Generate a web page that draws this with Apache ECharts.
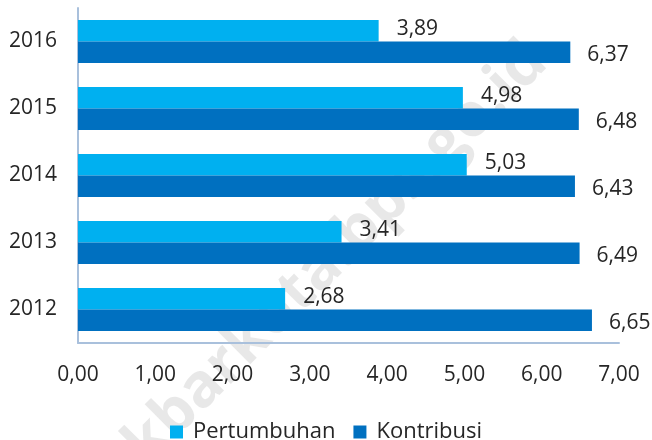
<!DOCTYPE html>
<html>
<head>
<meta charset="utf-8">
<script src="https://cdn.jsdelivr.net/npm/echarts@6/dist/echarts.min.js"></script>
<style>
html,body{margin:0;padding:0;background:#fff;}
#chart{width:652px;height:440px;}
</style>
</head>
<body>
<div id="chart"></div>
<script>
var years = ['2012', '2013', '2014', '2015', '2016'];
var pertumbuhan = [2.68, 3.41, 5.03, 4.98, 3.89];
var kontribusi = [6.65, 6.49, 6.43, 6.48, 6.37];
var xTickLabels = ['0,00', '1,00', '2,00', '3,00', '4,00', '5,00', '6,00', '7,00'];
var seriesNames = ['Pertumbuhan', 'Kontribusi'];
var watermarkText = 'kbarkota.bps.go.id';

var FONT = '"Open Sans", sans-serif';
var TEXT = '#262626';
var fmt = function (v) { return v.toFixed(2).replace('.', ','); };

var chart = echarts.init(document.getElementById('chart'));
chart.setOption({
  animation: false,
  backgroundColor: '#ffffff',
  textStyle: { fontFamily: FONT },
  graphic: [{
    type: 'text',
    z: -10,
    rotation: Math.PI * 45 / 180,
    originX: 0, originY: 0,
    x: 135, y: 455,
    style: {
      text: watermarkText,
      fontSize: 61,
      fontWeight: 'bold',
      fontFamily: FONT,
      verticalAlign: 'middle',
      fill: 'rgba(0,0,0,0.09)'
    }
  }],
  grid: { left: 78, right: 33, top: 8, bottom: 97, containLabel: false },
  legend: {
    data: seriesNames,
    left: 'center',
    top: 416,
    itemWidth: 13,
    itemHeight: 13,
    itemGap: 18,
    icon: 'rect',
    textStyle: { fontSize: 22, color: TEXT, fontFamily: FONT, padding: [0, 0, 0, 5] }
  },
  xAxis: {
    type: 'value',
    min: 0, max: 7, interval: 1,
    axisLine: { show: true, lineStyle: { color: '#a9c0dc', width: 2 } },
    axisTick: { show: false },
    splitLine: { show: false },
    axisLabel: {
      margin: 22,
      fontSize: 21, color: TEXT, fontFamily: FONT,
      formatter: function (v) { return xTickLabels[Math.round(v)]; }
    }
  },
  yAxis: {
    type: 'category',
    data: years,
    axisLine: { show: true, lineStyle: { color: '#a9c0dc', width: 2 } },
    axisTick: { show: false },
    axisLabel: { margin: 21, fontSize: 21, color: TEXT, fontFamily: FONT }
  },
  series: [
    {
      name: seriesNames[0], type: 'bar', data: pertumbuhan,
      itemStyle: { color: '#00B0F0' },
      barGap: '0%', barCategoryGap: '36%',
      label: { show: true, position: 'right', distance: 18, fontSize: 21, color: TEXT, fontFamily: FONT,
        offset: [0, -2], formatter: function (p) { return fmt(p.value); } }
    },
    {
      name: seriesNames[1], type: 'bar', data: kontribusi,
      itemStyle: { color: '#0070C0' },
      barGap: '0%', barCategoryGap: '36%',
      label: { show: true, position: 'right', distance: 17, fontSize: 21, color: TEXT, fontFamily: FONT,
        offset: [0, 3], formatter: function (p) { return fmt(p.value); } }
    }
  ]
});
</script>
</body>
</html>
